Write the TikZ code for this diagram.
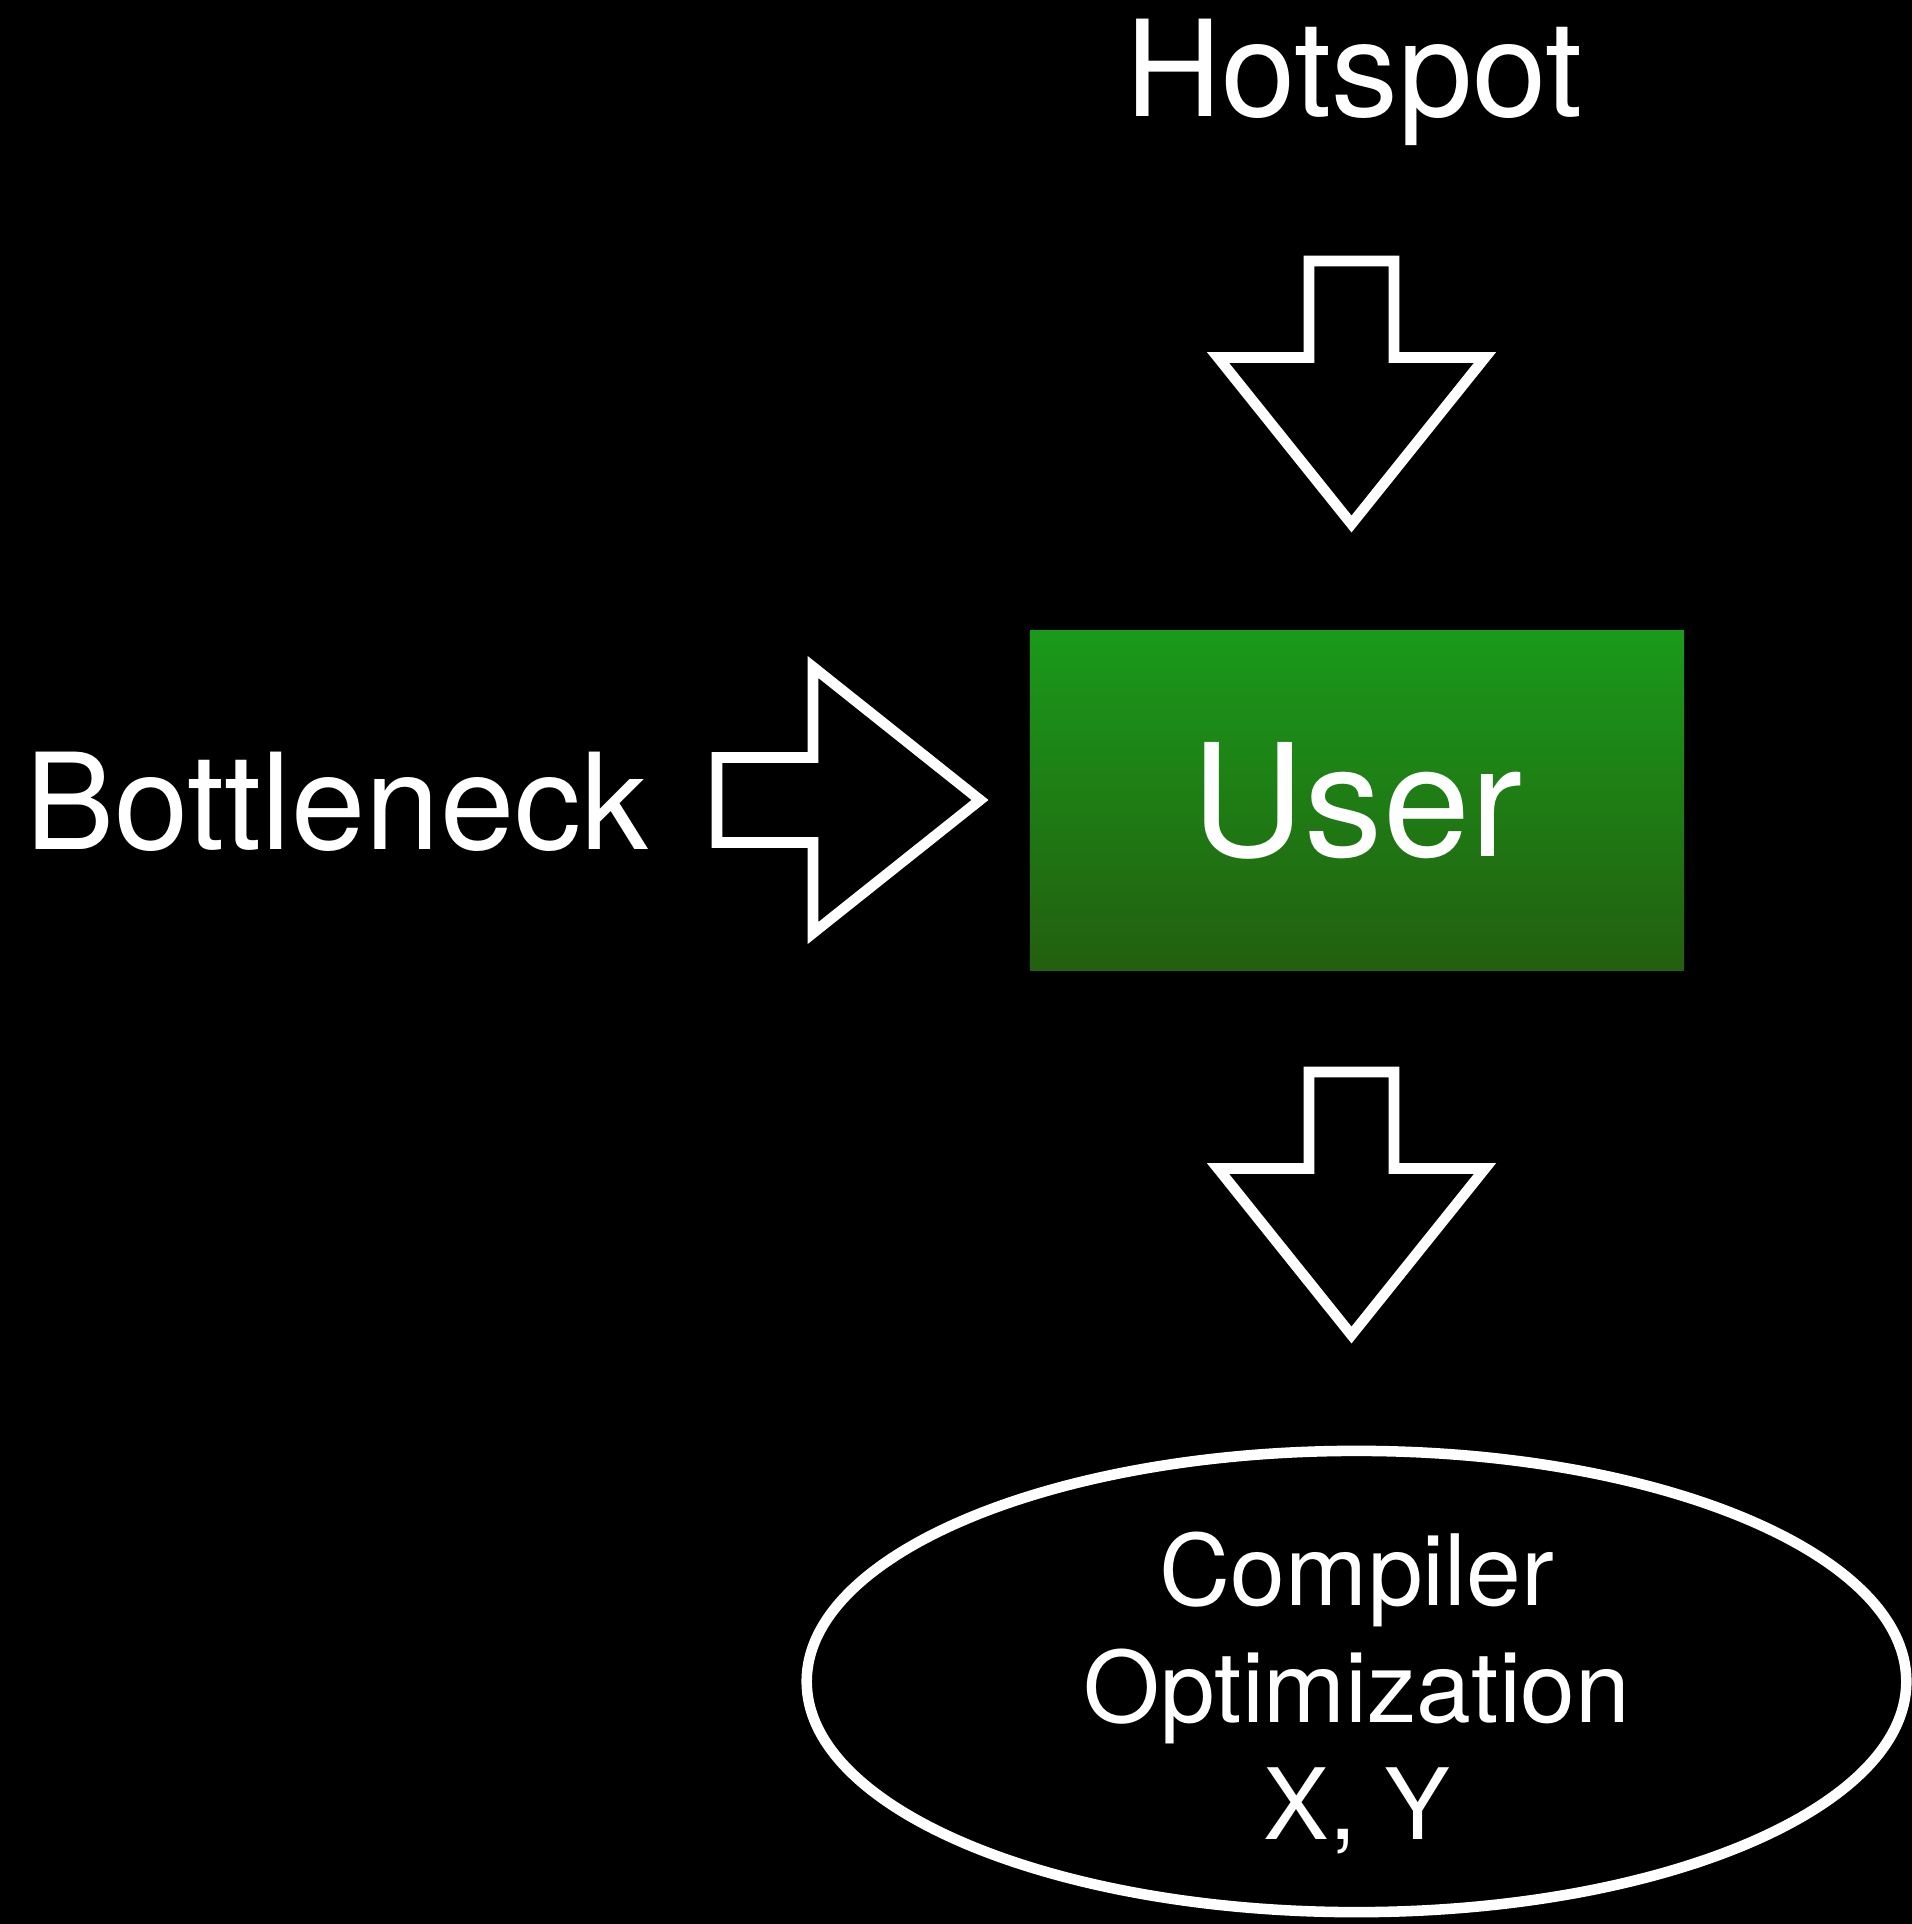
\documentclass[tikz,border=0pt]{standalone}
\usepackage{fontspec}
\setmainfont{TeX Gyre Heros}
\usetikzlibrary{shapes.geometric}
\definecolor{usertop}{HTML}{1A9A1A}
\definecolor{userbot}{HTML}{235F0F}
\begin{document}
\begin{tikzpicture}[x=0.01cm,y=-0.01cm,
  lbl/.style={text=white,inner sep=0pt,anchor=base,font=\fontsize{38}{44}\selectfont},
  blk/.style={draw=white,line width=3pt,line join=miter},
  userbox/.style={top color=usertop,bottom color=userbot,minimum width=6.54cm,
    minimum height=3.39cm,inner sep=0pt,text=white,font=\fontsize{44.5}{52}\selectfont},
  optbox/.style={ellipse,draw=white,line width=3pt,minimum width=10.99cm,
    minimum height=4.61cm,inner sep=0pt}]
  \useasboundingbox (0,0) rectangle (1911,1924);
  \fill[black] (-20,-20) rectangle (1931,1944);
  \node[lbl] (hot) at (1354,116.7) {Hotspot};
  \node[lbl] (neck) at (337,849.4) {Bottleneck};
  \node[userbox] (user) at (1357,800.5) {User};
  \node[optbox] (comp) at (1356.5,1681.5) {};
  \node[text=white,align=center,inner sep=0pt,font=\fontsize{28}{33.3}\selectfont]
    (comptxt) at (1357,1693) {Compiler\\Optimization\\X, Y};
  % block arrows
  \draw[blk] (1309,261) -- ++(85,0) -- ++(0,96.5) -- ++(91,0) -- (1351.5,524)
    -- (1218,357.5) -- ++(91,0) -- cycle;
  \draw[blk] (717,757.5) -- (813,757.5) -- (813,667) -- (980,800) -- (813,933)
    -- (813,842.5) -- (717,842.5) -- cycle;
  \draw[blk] (1309,1072) -- ++(85,0) -- ++(0,96.5) -- ++(91,0) -- (1351.5,1335)
    -- (1218,1168.5) -- ++(91,0) -- cycle;
\end{tikzpicture}
\end{document}
